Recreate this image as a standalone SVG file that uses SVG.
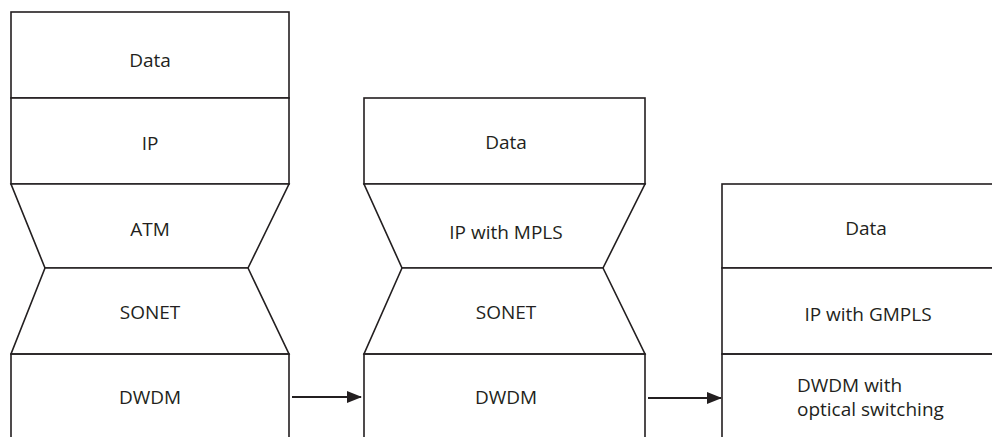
<svg xmlns="http://www.w3.org/2000/svg" width="992" height="437" viewBox="0 0 992 437">
<style>
.s{fill:#fff;stroke:#231f20;stroke-width:1.6;stroke-linejoin:miter}
.o{fill:none;stroke:#231f20;stroke-width:1.6}
.t{font-family:"Open Sans","Liberation Sans",sans-serif;font-size:19px;fill:#231f20;text-anchor:middle}
.c{stroke:#231f20;stroke-width:2;fill:none}
</style>
<defs>
<marker id="ah" markerWidth="15" markerHeight="12" refX="14" refY="6" orient="auto" markerUnits="userSpaceOnUse">
<path d="M0,0 L15,6 L0,12 Z" fill="#231f20"/>
</marker>
</defs>
<rect width="992" height="437" fill="#fff"/>
<g id="stack1">
<g id="s1-data"><rect class="s" x="11" y="12" width="278" height="86"/><text class="t" x="150" y="67">Data</text></g>
<g id="s1-ip"><rect class="s" x="11" y="98" width="278" height="86"/><text class="t" x="150" y="150">IP</text></g>
<g id="s1-atm"><polygon class="s" points="11,184 289,184 248,268 45,268"/><text class="t" x="150" y="236">ATM</text></g>
<g id="s1-sonet"><polygon class="s" points="45,268 248,268 289,354 11,354"/><text class="t" x="150" y="319">SONET</text></g>
<g id="s1-dwdm"><path class="o" d="M11,437 V354 H289 V437"/><text class="t" x="150" y="404">DWDM</text></g>
</g>
<g id="stack2">
<g id="s2-data"><rect class="s" x="364" y="98" width="281" height="86"/><text class="t" x="506" y="149">Data</text></g>
<g id="s2-ip"><polygon class="s" points="364,184 645,184 603,268 402,268"/><text class="t" x="506" y="239">IP with MPLS</text></g>
<g id="s2-sonet"><polygon class="s" points="402,268 603,268 645,354 364,354"/><text class="t" x="506" y="319">SONET</text></g>
<g id="s2-dwdm"><path class="o" d="M364,437 V354 H645 V437"/><text class="t" x="506" y="404">DWDM</text></g>
</g>
<g id="stack3">
<g id="s3-data"><rect class="s" x="722" y="184" width="290" height="84"/><text class="t" x="866" y="235">Data</text></g>
<g id="s3-ip"><rect class="s" x="722" y="268" width="290" height="86"/><text class="t" x="868" y="321">IP with GMPLS</text></g>
<g id="s3-dwdm"><path class="o" d="M722,437 V354 H1000"/><text class="t" x="797" y="392" style="text-anchor:start">DWDM with</text><text class="t" x="797" y="416" style="text-anchor:start">optical switching</text></g>
</g>
<g id="connectors">
<line class="c" x1="292" y1="397" x2="361" y2="397" marker-end="url(#ah)"/>
<line class="c" x1="648" y1="398" x2="721" y2="398" marker-end="url(#ah)"/>
</g>
</svg>
